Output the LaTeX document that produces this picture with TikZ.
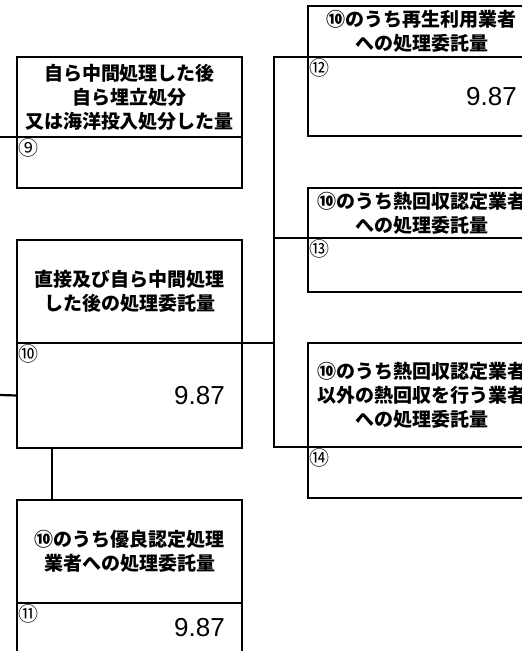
\documentclass[tikz,border=0pt]{standalone}
\usepackage{fontspec}
\newfontfamily\jp{Noto Sans CJK JP}
\newfontfamily\numfont{Liberation Sans}
\begin{document}
\begin{tikzpicture}[x=1pt,y=-1pt,
  box/.style={draw=black,line width=2.2pt,rectangle,inner sep=0pt,outer sep=0pt,anchor=north west,align=center,
    font=\jp\bfseries\fontsize{19}{24}\selectfont},
  conn/.style={draw=black,line width=2.2pt},
  circ/.style={anchor=north west,inner sep=0pt,font=\jp\fontsize{20}{20}\selectfont},
  val/.style={anchor=east,inner sep=0pt,font=\numfont\fontsize{26}{26}\selectfont}]
\fill[white] (0,0) rectangle (522,651);
\useasboundingbox (0,0) rectangle (522,651);
\clip (0,0) rectangle (522,651);
% box 9
\node[box,minimum width=225pt,minimum height=80pt] (b9t) at (17,57) {自ら中間処理した後\\自ら埋立処分\\又は海洋投入処分した量};
\node[box,minimum width=225pt,minimum height=51pt] (b9v) at (b9t.south west) {};
\node[circ] (c9) at ([shift={(1,1)}]b9v.north west) {⑨};
% box 10
\node[box,minimum width=225pt,minimum height=103pt] (b10t) at (17,240) {直接及び自ら中間処理\\した後の処理委託量};
\node[box,minimum width=225pt,minimum height=105pt] (b10v) at (b10t.south west) {};
\node[circ] (c10) at ([shift={(1,1)}]b10v.north west) {⑩};
\node[val] (v10) at ([shift={(-17,0)}]b10v.east) {9.87};
% box 11
\node[box,minimum width=225pt,minimum height=103pt] (b11t) at (17,500) {⑩のうち優良認定処理\\業者への処理委託量};
\node[box,minimum width=225pt,minimum height=60pt] (b11v) at (b11t.south west) {};
\node[circ] (c11) at ([shift={(1,1)}]b11v.north west) {⑪};
\node[val] (v11) at ([shift={(-17,25)}]b11v.north east) {9.87};
% box 12
\node[box,minimum width=227pt,minimum height=51pt] (b12t) at (308,6) {⑩のうち再生利用業者\\への処理委託量};
\node[box,minimum width=227pt,minimum height=79pt] (b12v) at (b12t.south west) {};
\node[circ] (c12) at ([shift={(1,1)}]b12v.north west) {⑫};
\node[val] (v12) at ([shift={(-18,0)}]b12v.east) {9.87};
% box 13
\node[box,minimum width=227pt,minimum height=50pt] (b13t) at (308,188) {⑩のうち熱回収認定業者\\への処理委託量};
\node[box,minimum width=227pt,minimum height=54pt] (b13v) at (b13t.south west) {};
\node[circ] (c13) at ([shift={(1,1)}]b13v.north west) {⑬};
% box 14
\node[box,minimum width=227pt,minimum height=104pt] (b14t) at (308,343) {⑩のうち熱回収認定業者\\以外の熱回収を行う業者\\への処理委託量};
\node[box,minimum width=227pt,minimum height=51pt] (b14v) at (b14t.south west) {};
\node[circ] (c14) at ([shift={(1,1)}]b14v.north west) {⑭};
% connectors
\coordinate (in9) at (0,137);
\coordinate (in10) at (0,395);
\coordinate (j10) at (274,343);
\draw[conn] (in9) -- (b9t.south west);
\draw[conn] (in10) -- (b10v.west);
\draw[conn] (b10t.south east) -- (j10);
\draw[conn] (j10) |- (b12t.south west);
\draw[conn] (j10) |- (b14t.south west);
\draw[conn] (j10 |- b13t.south west) -- (b13t.south west);
\draw[conn] (b10v.south west -| 52,0) -- (b11t.north west -| 52,0);
\end{tikzpicture}
\end{document}
